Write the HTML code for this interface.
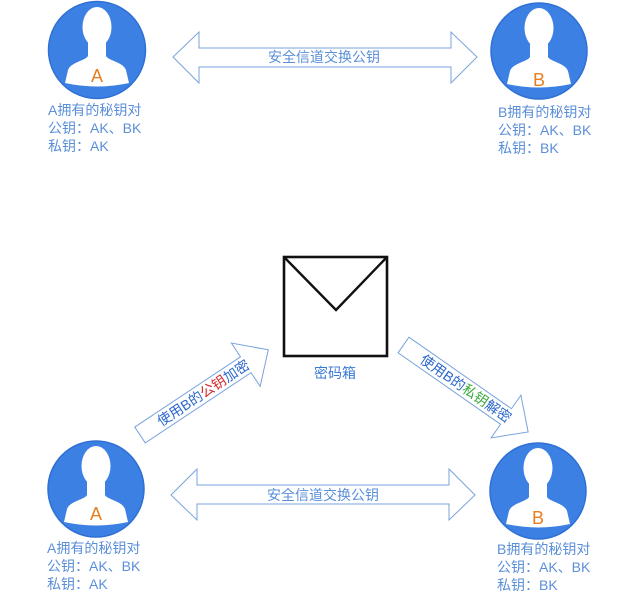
<!DOCTYPE html>
<html>
<head>
<meta charset="utf-8">
<style>
html,body{margin:0;padding:0;background:#fff;}
svg{display:block;}
text{font-family:"Liberation Sans","Noto Sans CJK SC",sans-serif;}
</style>
</head>
<body>
<svg width="626" height="600" viewBox="0 0 626 600" xmlns="http://www.w3.org/2000/svg">
<rect width="626" height="600" fill="#fff"/>

<!-- Avatars -->
<g transform="translate(97,50)">
  <circle r="48.5" fill="#3b80e2" stroke="#2f70d4" stroke-width="1.5"/>
  <ellipse cx="0" cy="-23" rx="14.5" ry="20" fill="#fff"/>
  <path d="M-9,-8 L-9,6 C-12,11 -26,12 -29,20 L-32,33 Q0,40 32,33 L29,20 C26,12 12,11 9,6 L9,-8 Z" fill="#fff"/>
  <text x="0" y="32" font-size="18" fill="#e57f22" text-anchor="middle">A</text>
</g>
<g transform="translate(539,51)">
  <circle r="48" fill="#3b80e2" stroke="#2f70d4" stroke-width="1.5"/>
  <ellipse cx="0" cy="-23" rx="14.5" ry="20" fill="#fff"/>
  <path d="M-9,-8 L-9,6 C-12,11 -26,12 -29,20 L-32,33 Q0,40 32,33 L29,20 C26,12 12,11 9,6 L9,-8 Z" fill="#fff"/>
  <text x="0" y="35" font-size="18" fill="#e57f22" text-anchor="middle">B</text>
</g>
<g transform="translate(96,489)">
  <circle r="48" fill="#3b80e2" stroke="#2f70d4" stroke-width="1.5"/>
  <ellipse cx="0" cy="-23" rx="14.5" ry="20" fill="#fff"/>
  <path d="M-9,-8 L-9,6 C-12,11 -26,12 -29,20 L-32,33 Q0,40 32,33 L29,20 C26,12 12,11 9,6 L9,-8 Z" fill="#fff"/>
  <text x="0" y="31" font-size="18" fill="#e57f22" text-anchor="middle">A</text>
</g>
<g transform="translate(538,491)">
  <circle r="48" fill="#3b80e2" stroke="#2f70d4" stroke-width="1.5"/>
  <ellipse cx="0" cy="-23" rx="14.5" ry="20" fill="#fff"/>
  <path d="M-9,-8 L-9,6 C-12,11 -26,12 -29,20 L-32,33 Q0,40 32,33 L29,20 C26,12 12,11 9,6 L9,-8 Z" fill="#fff"/>
  <text x="0" y="33" font-size="18" fill="#e57f22" text-anchor="middle">B</text>
</g>

<!-- Labels -->
<g font-size="14" fill="#5b8fd9">
  <text x="48" y="115">A拥有的秘钥对</text>
  <text x="48" y="133">公钥：AK、BK</text>
  <text x="48" y="151">私钥：AK</text>

  <text x="498" y="117">B拥有的秘钥对</text>
  <text x="498" y="135">公钥：AK、BK</text>
  <text x="498" y="153">私钥：BK</text>

  <text x="47" y="553">A拥有的秘钥对</text>
  <text x="47" y="571">公钥：AK、BK</text>
  <text x="47" y="589">私钥：AK</text>

  <text x="497" y="554">B拥有的秘钥对</text>
  <text x="497" y="572">公钥：AK、BK</text>
  <text x="497" y="590">私钥：BK</text>
</g>

<!-- Horizontal double arrows -->
<polygon points="173,57 199,32 199,48 451,48 451,32 477,57 451,83 451,67 199,67 199,83" fill="#fff" stroke="#79a3dc" stroke-width="1"/>
<text x="324" y="62" font-size="14" fill="#5b8fd9" text-anchor="middle">安全信道交换公钥</text>

<polygon points="171,495 197,469 197,485 449,485 449,469 475,495 449,520 449,504 197,504 197,520" fill="#fff" stroke="#79a3dc" stroke-width="1"/>
<text x="323" y="500" font-size="14" fill="#5b8fd9" text-anchor="middle">安全信道交换公钥</text>

<!-- Envelope -->
<rect x="284" y="257" width="103" height="99" fill="#fff" stroke="#111" stroke-width="2.6"/>
<polyline points="284,257 336,310 387,257" fill="none" stroke="#111" stroke-width="2.4"/>
<text x="335" y="378" font-size="14" fill="#3a7ad8" text-anchor="middle">密码箱</text>

<!-- Diagonal arrow left (up-right) -->
<g transform="translate(140,435) rotate(-33.6)">
  <polygon points="0,-9.5 127,-9.5 127,-26 154,0 127,26 127,9.5 0,9.5" fill="#fff" stroke="#79a3dc" stroke-width="1"/>
  <text x="76" y="5" font-size="14" text-anchor="middle"><tspan fill="#2a66cc">使用B的</tspan><tspan fill="#d42a2a">公钥</tspan><tspan fill="#2a66cc">加密</tspan></text>
</g>

<!-- Diagonal arrow right (down-right) -->
<g transform="translate(403.5,345) rotate(34.9)">
  <polygon points="0,-9.5 125,-9.5 125,-26 152,0 125,26 125,9.5 0,9.5" fill="#fff" stroke="#79a3dc" stroke-width="1"/>
  <text x="76" y="5" font-size="14" text-anchor="middle"><tspan fill="#2a66cc">使用B的</tspan><tspan fill="#3aaa3a">私钥</tspan><tspan fill="#2a66cc">解密</tspan></text>
</g>
</svg>
</body>
</html>
